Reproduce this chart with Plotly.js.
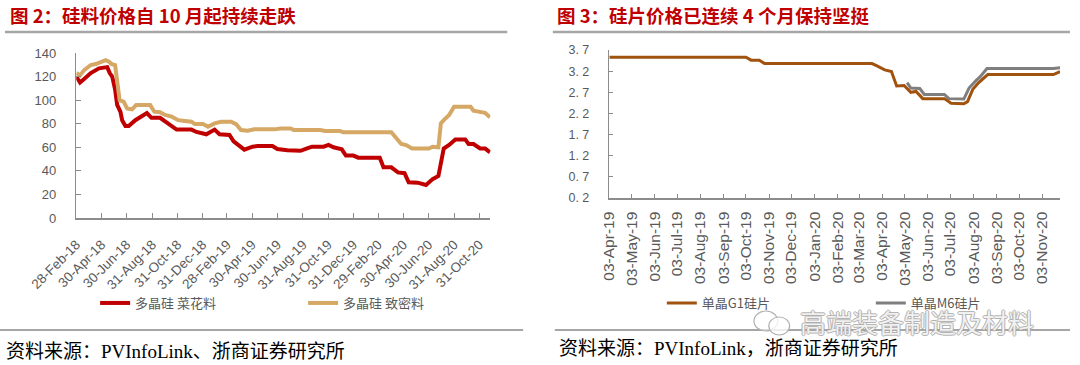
<!DOCTYPE html>
<html><head><meta charset="utf-8">
<script src="https://cdn.plot.ly/plotly-3.0.1.min.js"></script>
<style>html,body{margin:0;padding:0;background:#fff}#chart{width:1080px;height:365px}</style>
</head><body><div id="chart"></div>
<script>
// ---- Figure 2: polysilicon prices ----
const flowerDates = ['2018-02-28','2018-03-09','2018-03-19','2018-04-04','2018-04-24','2018-05-14','2018-05-20','2018-05-26','2018-06-02','2018-06-07','2018-06-15','2018-06-19','2018-06-27','2018-07-05','2018-07-21','2018-08-10','2018-08-18','2018-08-29','2018-09-19','2018-10-01','2018-10-29','2018-12-04','2018-12-16','2019-01-09','2019-01-29','2019-02-10','2019-03-06','2019-03-16','2019-03-30','2019-04-11','2019-05-01','2019-05-13','2019-06-18','2019-06-30','2019-07-24','2019-08-25','2019-09-10','2019-09-22','2019-10-20','2019-11-01','2019-11-13','2019-12-03','2019-12-13','2019-12-31','2020-01-12','2020-03-04','2020-03-13','2020-04-01','2020-04-17','2020-05-03','2020-05-13','2020-06-04','2020-06-24','2020-07-10','2020-07-24','2020-07-30','2020-08-06','2020-08-19','2020-09-03','2020-09-27','2020-10-05','2020-10-17','2020-11-02','2020-11-14','2020-11-26'];
const flowerValues = [120,115,118,123,127,128,123,120,109,96,90,83,78,78,83,88,89,85,85,82,75,75,73,71,75,71,70.5,65,61,58,60.5,61,61,58.5,57.5,57,59,60.5,60.5,62,60,58.3,53,53,51.2,51.2,43,43,38.7,38,30.3,30,28,33,35.6,46.4,59,62,66.7,66.7,62.8,62.8,59,59,55.7];
const denseDates = ['2018-02-28','2018-03-09','2018-03-19','2018-04-04','2018-04-16','2018-05-10','2018-05-18','2018-05-25','2018-06-02','2018-06-07','2018-06-13','2018-06-23','2018-07-01','2018-07-13','2018-07-23','2018-08-26','2018-09-05','2018-09-19','2018-10-01','2018-10-17','2018-11-02','2018-11-18','2018-12-04','2018-12-12','2019-01-01','2019-01-13','2019-01-29','2019-02-14','2019-03-10','2019-03-22','2019-04-03','2019-04-19','2019-05-05','2019-06-22','2019-07-08','2019-08-01','2019-08-09','2019-10-12','2019-10-24','2019-11-29','2019-12-07','2020-04-01','2020-04-13','2020-04-25','2020-05-07','2020-05-21','2020-07-01','2020-07-10','2020-07-24','2020-07-30','2020-08-06','2020-08-19','2020-08-31','2020-10-10','2020-10-17','2020-10-29','2020-11-14','2020-11-26'];
const denseValues = [123,121,125.5,129.8,130.6,134,132.6,130.6,129.8,114,100,98.6,93,92.2,95.8,95.8,90.2,89.7,87.4,86,83,82.3,81.7,79.7,79.7,77.4,80.3,81.7,81.7,79.7,74.6,74,75.2,75.2,76,76,74.6,74.6,73.8,73.8,72.7,72.7,67.6,62.8,61.9,59,59,60.5,60,80.3,83,87.4,94.4,94.4,91,90.2,89.3,85.4];
const leftTickVals = ['2018-02-28','2018-04-30','2018-06-30','2018-08-31','2018-10-31','2018-12-31','2019-02-28','2019-04-30','2019-06-30','2019-08-31','2019-10-31','2019-12-31','2020-02-29','2020-04-30','2020-06-30','2020-08-31','2020-10-31'];
const leftTickText = ['28-Feb-18','30-Apr-18','30-Jun-18','31-Aug-18','31-Oct-18','31-Dec-18','28-Feb-19','30-Apr-19','30-Jun-19','31-Aug-19','31-Oct-19','31-Dec-19','29-Feb-20','30-Apr-20','30-Jun-20','31-Aug-20','31-Oct-20'];
const leftYTicks = [0,20,40,60,80,100,120,140];

// ---- Figure 3: wafer prices ----
const g1Dates = ['2019-04-03','2019-10-03','2019-10-10','2019-10-21','2019-10-28','2020-03-20','2020-03-26','2020-04-06','2020-04-15','2020-04-22','2020-05-02','2020-05-11','2020-05-18','2020-05-27','2020-06-25','2020-07-04','2020-07-21','2020-07-26','2020-08-02','2020-08-10','2020-08-22','2020-11-18','2020-11-27'];
const g1Values = [3.53,3.53,3.46,3.46,3.38,3.38,3.33,3.23,3.19,2.85,2.86,2.70,2.72,2.55,2.55,2.44,2.43,2.48,2.77,2.93,3.12,3.12,3.19];
const m6Dates = ['2020-05-06','2020-05-11','2020-05-23','2020-05-29','2020-06-25','2020-07-01','2020-07-21','2020-07-28','2020-08-06','2020-08-12','2020-08-21','2020-11-18','2020-11-27'];
const m6Values = [2.93,2.80,2.79,2.65,2.65,2.55,2.54,2.80,2.97,3.07,3.26,3.26,3.28];
const rightTickVals = ['2019-04-03','2019-05-03','2019-06-03','2019-07-03','2019-08-03','2019-09-03','2019-10-03','2019-11-03','2019-12-03','2020-01-03','2020-02-03','2020-03-03','2020-04-03','2020-05-03','2020-06-03','2020-07-03','2020-08-03','2020-09-03','2020-10-03','2020-11-03'];
const rightTickText = ['03-Apr-19','03-May-19','03-Jun-19','03-Jul-19','03-Aug-19','03-Sep-19','03-Oct-19','03-Nov-19','03-Dec-19','03-Jan-20','03-Feb-20','03-Mar-20','03-Apr-20','03-May-20','03-Jun-20','03-Jul-20','03-Aug-20','03-Sep-20','03-Oct-20','03-Nov-20'];
const rightYTicks = [0.2,0.7,1.2,1.7,2.2,2.7,3.2,3.7];
const rightYTickText = ['0. 2','0. 7','1. 2','1. 7','2. 2','2. 7','3. 2','3. 7'];

const W = 1080, H = 365;
const px = x => x / W, py = y => 1 - y / H;
const grey = '#595959', axisCol = '#8C8C8C';
const tickFont = {family:'Liberation Sans, Arial, sans-serif', size:12, color:grey};
const cjk = 'Noto Sans CJK SC, sans-serif';

const traces = [
  {x:flowerDates, y:flowerValues, type:'scatter', mode:'lines', name:'多晶硅 菜花料', xaxis:'x', yaxis:'y', legend:'legend',
   line:{color:'#C00000', width:4}},
  {x:denseDates, y:denseValues, type:'scatter', mode:'lines', name:'多晶硅 致密料', xaxis:'x', yaxis:'y', legend:'legend',
   line:{color:'#D5A865', width:4}},
  {x:m6Dates, y:m6Values, type:'scatter', mode:'lines', name:'单晶M6硅片', xaxis:'x2', yaxis:'y2', legend:'legend2',
   line:{color:'#7F7F7F', width:3}},
  {x:g1Dates, y:g1Values, type:'scatter', mode:'lines', name:'单晶G1硅片', xaxis:'x2', yaxis:'y2', legend:'legend2',
   line:{color:'#A0520F', width:3}}
];

const legendBase = {orientation:'h', xanchor:'left', yanchor:'middle', bgcolor:'rgba(0,0,0,0)',
  font:{family:cjk, size:13, color:grey}, entrywidthmode:'pixels', traceorder:'normal'};

const layout = {
  width:W, height:H, margin:{l:0,r:0,t:0,b:0}, paper_bgcolor:'#fff', plot_bgcolor:'#fff',
  showlegend:true,
  xaxis:{domain:[px(77), px(495)], type:'date', range:['2018-02-28','2020-11-27'],
    tickmode:'array', tickvals:leftTickVals, ticktext:leftTickText, tickangle:-45,
    showline:true, linecolor:axisCol, linewidth:1.5, ticks:'inside', ticklen:5, tickcolor:axisCol,
    showgrid:false, zeroline:false, tickfont:{...tickFont, size:13.5}, ticklabelstandoff:12, anchor:'y'},
  yaxis:{domain:[py(218), py(53)], range:[0,140], tickmode:'array', tickvals:leftYTicks,
    showline:true, linecolor:axisCol, linewidth:1.5, ticks:'inside', ticklen:5, tickcolor:axisCol,
    showgrid:false, zeroline:false, tickfont:{...tickFont, size:13}, ticklabelstandoff:16, anchor:'x'},
  xaxis2:{domain:[px(615), px(1070)], type:'date', range:['2019-04-03','2020-11-27'],
    tickmode:'array', tickvals:rightTickVals, ticktext:rightTickText, tickangle:-90,
    showline:true, linecolor:axisCol, linewidth:1.5, ticks:'inside', ticklen:4, tickcolor:axisCol,
    showgrid:false, zeroline:false, tickfont:{...tickFont, size:15.5}, ticklabelstandoff:6, anchor:'y2'},
  yaxis2:{domain:[py(198), py(50)], range:[0.2,3.7], tickmode:'array', tickvals:rightYTicks, ticktext:rightYTickText,
    showline:true, linecolor:axisCol, linewidth:1.5, ticks:'inside', ticklen:4, tickcolor:axisCol,
    showgrid:false, zeroline:false, tickfont:{...tickFont, size:12.5}, ticklabelstandoff:16, anchor:'x2'},
  legend:{...legendBase, x:px(96), y:py(303), entrywidth:163},
  legend2:{...legendBase, x:px(668), y:py(303), entrywidth:164, traceorder:'reversed'},
  shapes:[
    {type:'line', xref:'paper', yref:'paper', x0:px(5), x1:px(512), y0:py(32), y1:py(32), line:{color:'#A6A6A6', width:2.5}},
    {type:'line', xref:'paper', yref:'paper', x0:px(558), x1:px(1080), y0:py(32), y1:py(32), line:{color:'#A6A6A6', width:2.5}},
    {type:'line', xref:'paper', yref:'paper', x0:px(0), x1:px(528), y0:py(330), y1:py(330), line:{color:'#A6A6A6', width:2}},
    {type:'line', xref:'paper', yref:'paper', x0:px(560), x1:px(1080), y0:py(330), y1:py(330), line:{color:'#A6A6A6', width:2}},
    {type:'circle', xref:'paper', yref:'paper', x0:px(761), x1:px(785), y0:py(331), y1:py(311), line:{color:'#B0B0B0', width:1.2}, fillcolor:'rgba(255,255,255,0.6)'},
    {type:'circle', xref:'paper', yref:'paper', x0:px(776), x1:px(797), y0:py(335), y1:py(317), line:{color:'#B0B0B0', width:1.2}, fillcolor:'rgba(255,255,255,0.8)'}
  ],
  annotations:[
    {text:'<b>图 2：硅料价格自 10 月起持续走跌</b>', xref:'paper', yref:'paper', x:px(8), y:py(15), xanchor:'left', yanchor:'middle',
     showarrow:false, font:{family:cjk, size:18.5, color:'#C00000'}},
    {text:'<b>图 3：硅片价格已连续 4 个月保持坚挺</b>', xref:'paper', yref:'paper', x:px(560), y:py(15), xanchor:'left', yanchor:'middle',
     showarrow:false, font:{family:cjk, size:18.5, color:'#C00000'}},
    {text:'资料来源：PVInfoLink、浙商证券研究所', xref:'paper', yref:'paper', x:px(4), y:py(351), xanchor:'left', yanchor:'middle',
     showarrow:false, font:{family:'Liberation Serif, Noto Sans CJK SC, serif', size:19, color:'#000'}},
    {text:'资料来源：PVInfoLink，浙商证券研究所', xref:'paper', yref:'paper', x:px(562), y:py(348), xanchor:'left', yanchor:'middle',
     showarrow:false, font:{family:'Liberation Serif, Noto Sans CJK SC, serif', size:19, color:'#000'}},
    {text:'高端装备制造及材料', xref:'paper', yref:'paper', x:px(926), y:py(321), xanchor:'center', yanchor:'middle',
     showarrow:false, font:{family:cjk, size:26, color:'rgba(255,255,255,0.85)',
       shadow:'1px 0 0 #A8A8A8, -1px 0 0 #A8A8A8, 0 1px 0 #A8A8A8, 0 -1px 0 #A8A8A8'}}
  ]
};

Plotly.newPlot('chart', traces, layout, {staticPlot:true, displayModeBar:false});
</script></body></html>
